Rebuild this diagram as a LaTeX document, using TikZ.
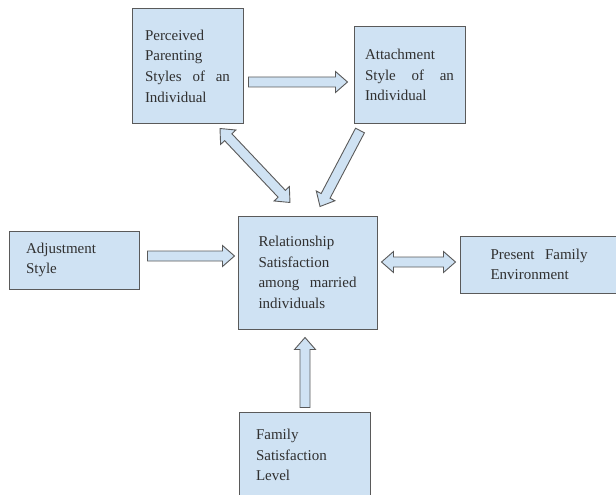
\documentclass[tikz,border=0pt]{standalone}
\usepackage{fontspec}
\setmainfont{Liberation Serif}
\usepackage{xcolor}
\usepackage{tikz}
\usetikzlibrary{calc}

\definecolor{boxblue}{HTML}{CFE2F3}
\definecolor{boxline}{HTML}{5A5A5A}
\definecolor{textgray}{HTML}{303030}

% block arrow from #1 to #2 (one head)
\newcommand{\flowarrow}[2]{%
  \draw[blockarrow] let \p1=($(#2)-(#1)$), \n1={atan2(\y1,\x1)}, \n2={veclen(\x1,\y1)} in
    [shift={(#1)}, rotate=\n1]
    (0pt,-5pt) -- (\n2-12pt,-5pt) -- (\n2-12pt,-10.5pt) -- (\n2,0pt)
    -- (\n2-12pt,10.5pt) -- (\n2-12pt,5pt) -- (0pt,5pt) -- cycle;}

% block arrow between #1 and #2 (two heads)
\newcommand{\flowarrowboth}[2]{%
  \draw[blockarrow] let \p1=($(#2)-(#1)$), \n1={atan2(\y1,\x1)}, \n2={veclen(\x1,\y1)} in
    [shift={(#1)}, rotate=\n1]
    (0pt,0pt) -- (12pt,10.5pt) -- (12pt,5pt) -- (\n2-12pt,5pt) -- (\n2-12pt,10.5pt)
    -- (\n2,0pt) -- (\n2-12pt,-10.5pt) -- (\n2-12pt,-5pt) -- (12pt,-5pt)
    -- (12pt,-10.5pt) -- cycle;}

\begin{document}
\begin{tikzpicture}[x=1pt, y=-1pt,
    factor/.style={draw=boxline, fill=boxblue, line width=1pt, text=textgray,
        font=\fontsize{15}{20.7}\selectfont, align=left, inner sep=0pt},
    blockarrow/.style={draw=boxline, fill=boxblue, line width=0.9pt}]

\useasboundingbox (0,0) rectangle (616,495);

% Boxes
\node[factor, minimum width=111pt, minimum height=114pt, text width=85pt] (perc) at (187.5,66)
    {Perceived\\Parenting\\Styles \hfill of \hfill an\\Individual};
\node[factor, minimum width=111pt, minimum height=96pt, text width=89pt] (attach) at (409.5,75)
    {Attachment\\Style \hfill of \hfill an\\Individual};
\node[factor, minimum width=139pt, minimum height=113pt, text width=98pt] (rel) at (307.5,272.5)
    {Relationship\\Satisfaction\\among \hfill married\\individuals};
\node[factor, minimum width=130pt, minimum height=58pt, text width=96pt] (adjust) at (74,260)
    {Adjustment\\Style};
\node[factor, minimum width=158pt, minimum height=57pt, text width=97pt] (present) at (539,264.5)
    {Present \hfill Family\\Environment};
\node[factor, minimum width=131pt, minimum height=86pt, text width=97pt] (famsat) at (304.5,455)
    {Family\\Satisfaction\\Level};

% Arrow ends
\coordinate (pa) at ($(perc.east)+(5,16)$);
\coordinate (ap) at ($(attach.west)+(-6,7)$);
\coordinate (pr) at ($(perc.south)+(32.5,5)$);
\coordinate (rp) at ($(rel.north)+(-17.5,-13)$);
\coordinate (ar) at ($(attach.south)+(-49.5,7)$);
\coordinate (ra) at ($(rel.north)+(12.5,-9)$);
\coordinate (jr) at ($(adjust.east)+(8,-4)$);
\coordinate (rj) at ($(rel.west)+(-3,-16.5)$);
\coordinate (rf) at ($(rel.east)+(4,-10.5)$);
\coordinate (fr) at ($(present.west)+(-4,-2.5)$);
\coordinate (sr) at ($(famsat.north)+(0.5,-4)$);
\coordinate (rs) at ($(rel.south)+(-2.5,8)$);

% Arrows
\foreach \a/\b in {pa/ap, ar/ra, jr/rj, sr/rs}
    \flowarrow{\a}{\b};
\foreach \a/\b in {pr/rp, rf/fr}
    \flowarrowboth{\a}{\b};

\end{tikzpicture}
\end{document}
